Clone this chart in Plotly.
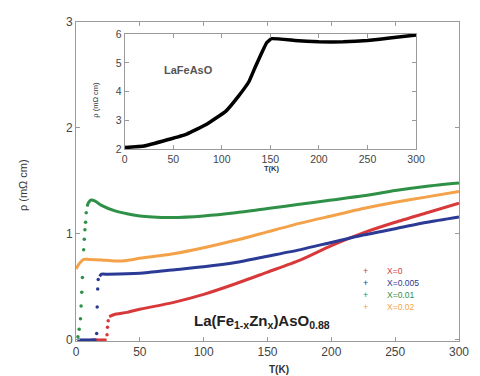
import plotly.graph_objects as go

# ---- main plot data: La(Fe1-xZnx)AsO0.88 ----
labels = ["X=0", "X=0.005", "X=0.01", "X=0.02"]
colors = ["#d9383a", "#2b3a95", "#2f9147", "#f4a24a"]

# X=0
T_red = [26, 30, 40, 50, 75, 100, 125, 150, 175, 200, 225, 250, 275, 300]
rho_red = [0.22, 0.24, 0.26, 0.29, 0.35, 0.43, 0.53, 0.64, 0.75, 0.89, 1.01, 1.11, 1.20, 1.29]
T_red_zero = [12, 18, 24]
rho_red_zero = [0, 0, 0]
T_red_tr = [24.3, 24.7, 25.2]
rho_red_tr = [0.05, 0.12, 0.18]

# X=0.005
T_blue = [18.5, 20, 25, 50, 75, 100, 125, 150, 175, 200, 225, 250, 275, 300]
rho_blue = [0.60, 0.62, 0.62, 0.63, 0.66, 0.69, 0.73, 0.79, 0.85, 0.92, 0.99, 1.05, 1.11, 1.16]
T_blue_zero = [1, 8, 16]
rho_blue_zero = [0, 0, 0]
T_blue_tr = [16.2, 16.6, 17.0, 17.4]
rho_blue_tr = [0.06, 0.31, 0.48, 0.57]

# X=0.01
T_green = [8.6, 10, 12, 15, 20, 30, 40, 50, 60, 75, 100, 125, 150, 175, 200, 225, 250, 275, 300]
rho_green = [1.26, 1.30, 1.32, 1.31, 1.27, 1.22, 1.19, 1.17, 1.16, 1.155, 1.17, 1.20, 1.24, 1.28, 1.32, 1.36, 1.41, 1.45, 1.48]
T_green_tr = [1.5, 2.5, 3.5, 4.0, 4.5, 5.0, 6.0, 6.5, 7.0, 7.5, 8.0]
rho_green_tr = [0.03, 0.10, 0.20, 0.32, 0.45, 0.59, 0.85, 0.95, 1.04, 1.11, 1.20]

# X=0.02
T_orange = [0, 2, 4, 6, 10, 20, 30, 40, 50, 75, 100, 125, 150, 175, 200, 225, 250, 275, 300]
rho_orange = [0.67, 0.71, 0.74, 0.76, 0.76, 0.755, 0.745, 0.75, 0.77, 0.81, 0.87, 0.94, 1.02, 1.10, 1.17, 1.24, 1.30, 1.35, 1.40]

# ---- inset data: LaFeAsO ----
T_inset = [0, 20, 44, 64, 84, 104, 117, 128, 134, 141, 146, 151, 175, 200, 225, 250, 275, 300]
rho_inset = [2.05, 2.10, 2.32, 2.52, 2.85, 3.31, 3.83, 4.35, 4.82, 5.34, 5.69, 5.84, 5.78, 5.73, 5.73, 5.78, 5.87, 5.97]

x_ticks = [0, 50, 100, 150, 200, 250, 300]
y_ticks = [0, 1, 2, 3]
inset_y_ticks = [2, 3, 4, 5, 6]

FONT = "Liberation Sans"
AXC = "#9a9a9a"
TXC = "#444444"

fig = go.Figure()

curves = [
    (T_red, rho_red, T_red_zero, rho_red_zero, T_red_tr, rho_red_tr),
    (T_blue, rho_blue, T_blue_zero, rho_blue_zero, T_blue_tr, rho_blue_tr),
    (T_green, rho_green, None, None, T_green_tr, rho_green_tr),
    (T_orange, rho_orange, None, None, None, None),
]
for i in range(4):
    T, r, Tz, rz, Tt, rt = curves[i]
    c = colors[i]
    if Tz is not None:
        fig.add_trace(go.Scatter(x=Tz, y=rz, mode="lines", line=dict(color=c, width=3),
                                 xaxis="x", yaxis="y", showlegend=False, hoverinfo="skip"))
    if Tt is not None:
        fig.add_trace(go.Scatter(x=Tt, y=rt, mode="markers",
                                 marker=dict(color=c, size=3.5), cliponaxis=False,
                                 xaxis="x", yaxis="y", showlegend=False, hoverinfo="skip"))
    fig.add_trace(go.Scatter(x=T, y=r, mode="lines",
                             line=dict(color=c, width=3, shape="spline", smoothing=0.6),
                             xaxis="x", yaxis="y", name=labels[i], showlegend=False))

fig.add_trace(go.Scatter(x=T_inset, y=rho_inset, mode="lines",
                         line=dict(color="black", width=3.5, shape="spline", smoothing=0.25),
                         xaxis="x2", yaxis="y2", showlegend=False))

axis_common = dict(showline=True, linecolor=AXC, linewidth=1, mirror="ticks", ticks="inside",
                   ticklen=4, tickcolor=AXC, showgrid=False, zeroline=False,
                   tickfont=dict(family=FONT, size=12, color=TXC))
inset_font = dict(family=FONT, size=10.5, color=TXC)

fig.update_layout(
    width=480, height=376,
    margin=dict(l=76, r=11, t=22, b=35),
    plot_bgcolor="white", paper_bgcolor="white",
    showlegend=False,
    font=dict(family=FONT),
    xaxis=dict(range=[0, 300], tickvals=x_ticks, domain=[0, 1], anchor="y", **axis_common),
    yaxis=dict(range=[-0.01, 3], tickvals=y_ticks, domain=[0, 1], anchor="x", **axis_common),
    xaxis2=dict(range=[0, 300], tickvals=x_ticks, domain=[0.127, 0.888], anchor="y2",
                **{**axis_common, "tickfont": inset_font}),
    yaxis2=dict(range=[2, 6], tickvals=inset_y_ticks, domain=[0.602, 0.962], anchor="x2",
                **{**axis_common, "tickfont": inset_font}),
)

ann = [
    dict(text="ρ (mΩ cm)", x=-0.14, y=0.49, textangle=-90, font=dict(size=11, color="#333")),
    dict(text="<b>T(K)</b>", x=0.53, y=-0.088, font=dict(size=10, color="#333")),
    dict(text="ρ (mΩ cm)", x=0.05, y=0.757, textangle=-90, font=dict(size=7.5, color="#333")),
    dict(text="<b>T(K)</b>", x=0.51, y=0.54, font=dict(size=7.5, color="#333")),
    dict(text="<b>LaFeAsO</b>", x=0.295, y=0.85, font=dict(size=11, color="#555")),
    dict(text="<b>La(Fe<sub>1-x</sub>Zn<sub>x</sub>)AsO<sub>0.88</sub></b>", x=0.303, y=0.06,
         xanchor="left", font=dict(size=15, color="#222")),
]
legend_rows_y = [0.219, 0.182, 0.144, 0.107]
for lab, c, yy in zip(labels, colors, legend_rows_y):
    ann.append(dict(text="+", x=0.755, y=yy, font=dict(size=9, color=c)))
    ann.append(dict(text=lab, x=0.807, y=yy, xanchor="left", font=dict(size=8.5, color=c)))

for a in ann:
    a.setdefault("xanchor", "center")
    fig.add_annotation(xref="paper", yref="paper", showarrow=False, yanchor="middle", **a)

fig.write_html("out.html")
